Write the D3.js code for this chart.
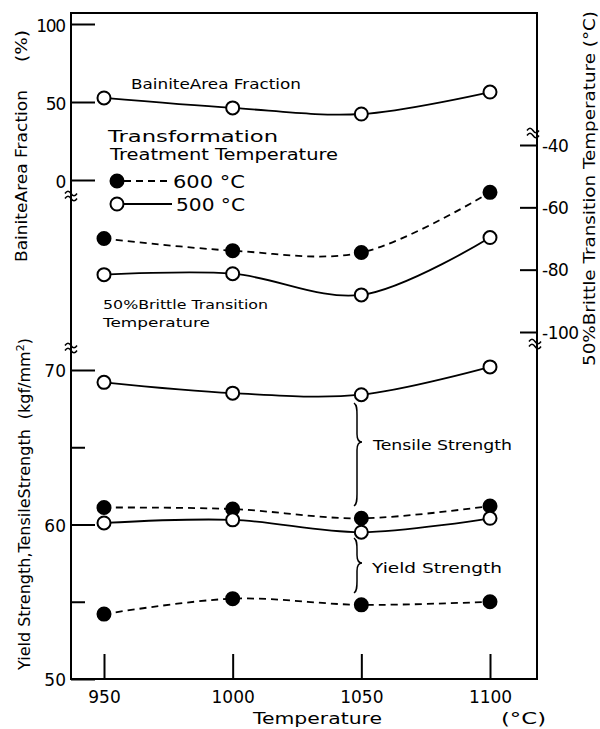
<!DOCTYPE html>
<html><head><meta charset="utf-8">
<script src="https://cdn.jsdelivr.net/npm/d3@7"></script>
<style>body{margin:0;background:#fff}</style>
</head><body>
<svg id="c" width="600" height="729" xmlns="http://www.w3.org/2000/svg"></svg>
<script>
// ---- data ----
const temps = [950, 1000, 1050, 1100];
const bainite500 = [52.6, 46.2, 42.3, 56.4];
const brittle600 = [-70.0, -73.9, -74.5, -55.2];
const brittle500 = [-81.6, -81.3, -88.1, -69.7];
const tensile600 = [61.1, 61.0, 60.4, 61.2];
const tensile500 = [69.2, 68.5, 68.4, 70.2];
const yield600 = [54.2, 55.2, 54.8, 55.0];
const yield500 = [60.1, 60.3, 59.5, 60.4];
const xTicks = [950, 1000, 1050, 1100];
const bainiteTicks = [0, 50, 100];
const brittleTicks = [-40, -60, -80, -100];
const strengthMajor = [50, 60, 70];
const strengthMinor = [55, 65];
const legendLabels = ["600 °C", "500 °C"];

// ---- layout ----
const FONT = "'DejaVu Sans', Verdana, sans-serif";
const LX = 71, RX = 537, TY = 13, BY = 679;
const svg = d3.select("#c");

const x = d3.scaleLinear().domain([950, 1100]).range([104, 490]);
const yB = d3.scaleLinear().domain([0, 100]).range([180, 24]);
const yT = d3.scaleLinear().domain([-40, -100]).range([145, 332]);
const yS = d3.scaleLinear().domain([50, 70]).range([BY, 370]);

function styleAxis(g, size) {
  g.attr("font-family", FONT).attr("font-size", size);
  g.select(".domain").remove();
  g.selectAll("line").attr("stroke", "#000").attr("stroke-width", 2);
  g.selectAll("text").attr("fill", "#000");
}

// frame
svg.append("path")
  .attr("d", `M${LX},${TY}H${RX}V${BY}H${LX}Z`)
  .attr("fill", "none").attr("stroke", "#000").attr("stroke-width", 2);

// break marks
function brk(cx, cy) {
  const g = svg.append("g");
  [-2.5, 2.5].forEach(o => {
    g.append("path")
      .attr("d", `M${cx - 6},${cy + o} c2,-3 4,-3 6,0 s4,3 6,0`)
      .attr("fill", "none").attr("stroke", "#000").attr("stroke-width", 1.5);
  });
}
brk(LX, 196); brk(LX, 348); brk(RX - 4, 133); brk(RX - 2, 344);

// left top axis (bainite)
svg.append("g").attr("transform", `translate(${LX},0)`)
  .call(d3.axisLeft(yB).tickValues(bainiteTicks).tickSize(-24).tickPadding(6).tickFormat(d => String(d)))
  .call(styleAxis, 17)
  .call(g => g.selectAll("text").attr("dy", "0.42em").attr("letter-spacing", "-1.2"));

// left lower axis (strength)
svg.append("g").attr("transform", `translate(${LX},0)`)
  .call(d3.axisLeft(yS).tickValues(strengthMajor).tickSize(-24).tickPadding(5).tickFormat(d => String(d)))
  .call(styleAxis, 17)
  .call(g => g.selectAll("text").attr("dy", "0.4em"));
svg.append("g").attr("transform", `translate(${LX},0)`)
  .call(d3.axisLeft(yS).tickValues(strengthMinor).tickSize(-14).tickFormat(""))
  .call(styleAxis, 17);

// right axis (brittle transition)
svg.append("g").attr("transform", `translate(${RX},0)`)
  .call(d3.axisRight(yT).tickValues(brittleTicks).tickSize(-17).tickPadding(5).tickFormat(d => String(d)))
  .call(styleAxis, 17)
  .call(g => g.selectAll("text").attr("dy", "0.36em").attr("letter-spacing", "-0.5"));

// bottom axis
svg.append("g").attr("transform", `translate(0,${BY})`)
  .call(d3.axisBottom(x).tickValues(xTicks).tickSize(-25).tickPadding(12).tickFormat(d => String(d)))
  .call(styleAxis, 17);

// ---- series ----
const line = y => d3.line().x((d, i) => x(temps[i])).y(d => y(d)).curve(d3.curveCatmullRom.alpha(0.5));
const series = [
  {v: bainite500, y: yB, filled: false},
  {v: brittle600, y: yT, filled: true},
  {v: brittle500, y: yT, filled: false},
  {v: tensile600, y: yS, filled: true},
  {v: tensile500, y: yS, filled: false},
  {v: yield600, y: yS, filled: true},
  {v: yield500, y: yS, filled: false}
];
series.forEach(s => {
  svg.append("path").datum(s.v).attr("d", line(s.y))
    .attr("fill", "none").attr("stroke", "#000").attr("stroke-width", 1.8)
    .attr("stroke-dasharray", s.filled ? "7,5" : null);
});
series.forEach(s => {
  svg.append("g").selectAll("circle").data(s.v).join("circle")
    .attr("cx", (d, i) => x(temps[i])).attr("cy", d => s.y(d)).attr("r", 6.5)
    .attr("fill", s.filled ? "#000" : "#fff").attr("stroke", "#000").attr("stroke-width", 2);
});

// ---- text ----
function txt(str, tx, ty, size, len, opts = {}) {
  const t = svg.append("text").attr("font-family", FONT).attr("font-size", size)
    .attr("fill", "#000").text(str);
  if (opts.rot) t.attr("transform", `translate(${tx},${ty}) rotate(-90)`);
  else t.attr("x", tx).attr("y", ty);
  if (len) t.attr("textLength", len).attr("lengthAdjust", "spacingAndGlyphs");
  if (opts.anchor) t.attr("text-anchor", opts.anchor);
  if (opts.weight) t.attr("font-weight", opts.weight);
  return t;
}

txt("BainiteArea Fraction", 131, 89, 14, 170);
txt("Transformation", 108, 142, 16, 170);
txt("Treatment Temperature", 110, 160, 16, 228);
txt("50%Brittle Transition", 103, 309, 13, 165);
txt("Temperature", 103, 327, 13, 107);
txt("Tensile Strength", 373, 450, 14.5, 139);
txt("Yield Strength", 372, 573, 14.5, 130);
txt("Temperature", 253, 724, 16, 129);
txt("(°C)", 501, 724, 16, 45);

// legend
const legY = [181, 204];
legY.forEach((ly, i) => {
  svg.append("line").attr("x1", 124).attr("x2", i === 0 ? 168 : 172).attr("y1", ly).attr("y2", ly)
    .attr("stroke", "#000").attr("stroke-width", 1.8).attr("stroke-dasharray", i === 0 ? "7,5" : null);
  svg.append("circle").attr("cx", 117).attr("cy", ly).attr("r", 6.5)
    .attr("fill", i === 0 ? "#000" : "#fff").attr("stroke", "#000").attr("stroke-width", 2);
  txt(legendLabels[i], i === 0 ? 173 : 176, ly + 7, 17, i === 0 ? 72 : 69);
});

// braces
function brace(bx, y1, y2, ym) {
  svg.append("path")
    .attr("d", `M${bx},${y1} C${bx + 3},${y1 + 2} ${bx + 3},${y1 + 6} ${bx + 3},${y1 + 12}
      L${bx + 3},${ym - 8} C${bx + 3},${ym - 3} ${bx + 5},${ym} ${bx + 8},${ym}
      C${bx + 5},${ym} ${bx + 3},${ym + 3} ${bx + 3},${ym + 8}
      L${bx + 3},${y2 - 12} C${bx + 3},${y2 - 6} ${bx + 3},${y2 - 2} ${bx},${y2}`)
    .attr("fill", "none").attr("stroke", "#000").attr("stroke-width", 1.5);
}
brace(354, 403, 506, 442);
brace(354, 538, 593, 563);

// axis titles (rotated)
txt("BainiteArea Fraction", 27, 262, 16, 172, {rot: true});
txt("(%)", 27, 62, 16, 32, {rot: true});
const ys = svg.append("text").attr("font-family", FONT).attr("font-size", 16).attr("fill", "#000")
  .attr("transform", "translate(30,670) rotate(-90)");
ys.append("tspan").text("Yield Strength,TensileStrength");
ys.append("tspan").attr("dx", 10).text("(kgf/mm");
ys.append("tspan").attr("dy", -6).attr("font-size", 11).text("2");
ys.append("tspan").attr("dy", 6).text(")");
txt("50%Brittle Transition Temperature (°C)", 595, 366, 16, 355, {rot: true});
</script>
</body></html>
